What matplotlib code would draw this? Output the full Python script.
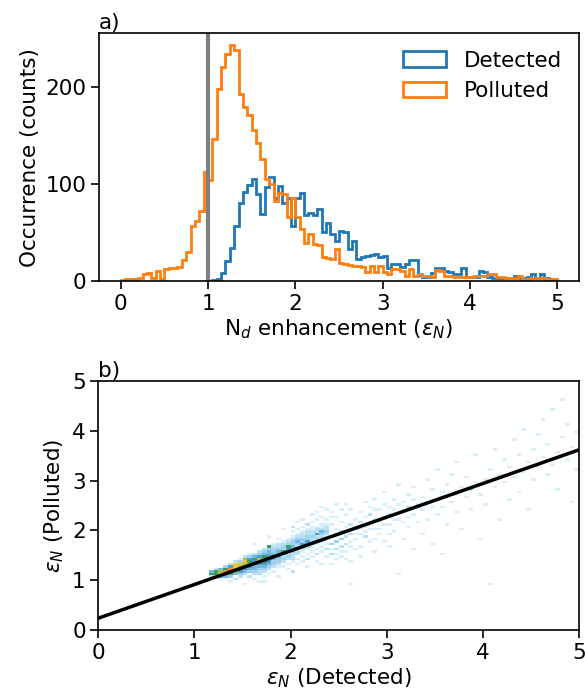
import numpy as np
import matplotlib
matplotlib.use("Agg")
import matplotlib.pyplot as plt
from matplotlib.colors import ListedColormap, BoundaryNorm

# ---------------- data: panel a (histograms, bin width 0.05) ----------------
polluted_edges_start = 0.0
bin_width = 0.05

polluted_counts = [
    1, 2, 2, 2, 3, 7, 8, 3, 10, 2,
    12, 13, 13, 14, 22, 30, 57, 62, 72, 112,
    104, 146, 198, 220, 234, 243, 238, 193, 179, 171,
    155, 142, 126, 105, 100, 82, 91, 90, 66, 86,
    66, 54, 39, 48, 38, 37, 25, 24, 23, 33,
    19, 18, 17, 16, 15, 14, 9, 15, 9, 15,
    9, 7, 12, 12, 10, 5, 12, 5, 7, 5,
    5, 4, 11, 10, 5, 5, 4, 4, 4, 4,
    4, 5, 5, 5, 7, 7, 4, 4, 3, 3,
    3, 5, 2, 2, 3, 3, 3, 2, 2, 2,
]

detected_counts = [
    1, 2, 8, 21, 34, 57, 80, 92, 99, 105,
    90, 69, 97, 107, 86, 98, 80, 86, 57, 86,
    91, 68, 70, 68, 74, 51, 60, 48, 41, 52,
    50, 33, 41, 23, 25, 26, 27, 28, 25, 26,
    13, 18, 18, 14, 18, 22, 22, 6, 4, 4,
    8, 13, 13, 10, 9, 7, 7, 13, 4, 4,
    4, 10, 9, 4, 3, 3, 3, 3, 3, 5,
    3, 3, 4, 7, 3, 7, 3, 2, 1,
]
detected_first_bin = 21  # index of first nonzero bin (x = 1.05)

threshold = 1.0
legend_labels = ["Detected", "Polluted"]

# ---------------- data: panel b (2D histogram cells, 0.05 x 0.05) ----------------
cells = [
    # dense core
    (1.18, 1.13, 6), (1.18, 1.18, 4), (1.18, 1.08, 2),
    (1.23, 1.08, 3), (1.23, 1.13, 6), (1.23, 1.18, 6), (1.23, 1.23, 2),
    (1.28, 1.03, 1), (1.28, 1.08, 4), (1.28, 1.13, 8), (1.28, 1.18, 7), (1.28, 1.23, 4),
    (1.33, 1.08, 4), (1.33, 1.13, 7), (1.33, 1.18, 9), (1.33, 1.23, 6), (1.33, 1.28, 3),
    (1.38, 0.98, 1), (1.38, 1.08, 3), (1.38, 1.13, 6), (1.38, 1.18, 10), (1.38, 1.23, 9),
    (1.38, 1.28, 5), (1.38, 1.33, 2),
    (1.43, 1.03, 2), (1.43, 1.13, 4), (1.43, 1.18, 7), (1.43, 1.23, 9), (1.43, 1.28, 8),
    (1.43, 1.33, 8), (1.43, 1.38, 2),
    (1.48, 1.08, 2), (1.48, 1.13, 3), (1.48, 1.18, 5), (1.48, 1.23, 6), (1.48, 1.28, 7),
    (1.48, 1.33, 8), (1.48, 1.38, 3), (1.48, 1.43, 1),
    (1.53, 0.93, 1), (1.53, 1.13, 2), (1.53, 1.18, 4), (1.53, 1.23, 5), (1.53, 1.28, 6),
    (1.53, 1.33, 7), (1.53, 1.38, 8), (1.53, 1.43, 7), (1.53, 1.48, 2),
    (1.58, 1.08, 2), (1.58, 1.18, 3), (1.58, 1.23, 4), (1.58, 1.28, 5), (1.58, 1.33, 7),
    (1.58, 1.38, 6), (1.58, 1.43, 5), (1.58, 1.48, 3), (1.58, 1.53, 1),
    (1.63, 1.03, 1), (1.63, 1.13, 2), (1.63, 1.18, 3), (1.63, 1.23, 4), (1.63, 1.28, 4),
    (1.63, 1.33, 6), (1.63, 1.38, 5), (1.63, 1.43, 6), (1.63, 1.48, 4), (1.63, 1.53, 2),
    (1.63, 1.73, 1),
    (1.68, 0.98, 1), (1.68, 1.13, 2), (1.68, 1.18, 2), (1.68, 1.23, 3), (1.68, 1.28, 4),
    (1.68, 1.33, 5), (1.68, 1.38, 8), (1.68, 1.43, 7), (1.68, 1.48, 5), (1.68, 1.53, 3),
    (1.68, 1.58, 2),
    (1.73, 0.98, 1), (1.73, 1.08, 1), (1.73, 1.18, 2), (1.73, 1.23, 3), (1.73, 1.28, 4),
    (1.73, 1.33, 5), (1.73, 1.38, 6), (1.73, 1.43, 5), (1.73, 1.48, 6), (1.73, 1.53, 4),
    (1.73, 1.58, 3), (1.73, 1.63, 2),
    (1.78, 1.13, 1), (1.78, 1.23, 2), (1.78, 1.28, 3), (1.78, 1.33, 4), (1.78, 1.38, 5),
    (1.78, 1.43, 4), (1.78, 1.48, 5), (1.78, 1.53, 4), (1.78, 1.58, 4), (1.78, 1.63, 3),
    (1.78, 1.68, 6), (1.78, 1.88, 1),
    (1.83, 1.18, 1), (1.83, 1.28, 2), (1.83, 1.33, 3), (1.83, 1.38, 3), (1.83, 1.43, 4),
    (1.83, 1.48, 6), (1.83, 1.53, 4), (1.83, 1.58, 3), (1.83, 1.63, 3), (1.83, 1.68, 2),
    (1.83, 1.73, 1),
    (1.88, 1.08, 1), (1.88, 1.28, 1), (1.88, 1.33, 2), (1.88, 1.38, 3), (1.88, 1.43, 3),
    (1.88, 1.48, 4), (1.88, 1.53, 3), (1.88, 1.58, 4), (1.88, 1.63, 3), (1.88, 1.68, 2),
    (1.88, 1.73, 2), (1.88, 1.83, 1),
    (1.93, 1.28, 1), (1.93, 1.38, 2), (1.93, 1.43, 3), (1.93, 1.48, 2), (1.93, 1.53, 4),
    (1.93, 1.58, 6), (1.93, 1.63, 3), (1.93, 1.68, 3), (1.93, 1.73, 2), (1.93, 1.78, 1),
    (1.93, 2.03, 1),
    (1.98, 1.23, 1), (1.98, 1.33, 1), (1.98, 1.43, 2), (1.98, 1.48, 3), (1.98, 1.53, 2),
    (1.98, 1.58, 2), (1.98, 1.63, 5), (1.98, 1.68, 6), (1.98, 1.73, 3), (1.98, 1.78, 2),
    (1.98, 1.83, 1),
    (2.03, 1.18, 2), (2.03, 1.38, 1), (2.03, 1.48, 2), (2.03, 1.53, 2), (2.03, 1.58, 3),
    (2.03, 1.63, 3), (2.03, 1.68, 4), (2.03, 1.73, 3), (2.03, 1.78, 3), (2.03, 1.83, 2),
    (2.03, 1.88, 1),
    (2.08, 1.43, 1), (2.08, 1.53, 2), (2.08, 1.58, 2), (2.08, 1.63, 3), (2.08, 1.68, 2),
    (2.08, 1.73, 3), (2.08, 1.78, 4), (2.08, 1.83, 3), (2.08, 1.88, 2), (2.08, 1.93, 1),
    (2.08, 2.18, 1),
    (2.13, 1.48, 1), (2.13, 1.58, 1), (2.13, 1.63, 2), (2.13, 1.68, 3), (2.13, 1.73, 5),
    (2.13, 1.78, 3), (2.13, 1.83, 3), (2.13, 1.88, 2), (2.13, 1.93, 2), (2.13, 1.98, 1),
    (2.18, 1.28, 1), (2.18, 1.53, 1), (2.18, 1.63, 1), (2.18, 1.68, 2), (2.18, 1.73, 3),
    (2.18, 1.78, 5), (2.18, 1.83, 3), (2.18, 1.88, 3), (2.18, 1.93, 2), (2.18, 1.98, 2),
    (2.18, 2.03, 1),
    (2.23, 1.58, 1), (2.23, 1.68, 1), (2.23, 1.73, 2), (2.23, 1.78, 3), (2.23, 1.83, 2),
    (2.23, 1.88, 3), (2.23, 1.93, 2), (2.23, 1.98, 2), (2.23, 2.03, 1), (2.23, 2.08, 1),
    (2.23, 2.33, 1),
    (2.28, 1.38, 1), (2.28, 1.63, 1), (2.28, 1.73, 1), (2.28, 1.78, 2), (2.28, 1.83, 3),
    (2.28, 1.88, 2), (2.28, 1.93, 5), (2.28, 1.98, 2), (2.28, 2.03, 2), (2.28, 2.08, 1),
    (2.33, 1.68, 1), (2.33, 1.78, 1), (2.33, 1.83, 2), (2.33, 1.88, 2), (2.33, 1.93, 3),
    (2.33, 1.98, 4), (2.33, 2.03, 2), (2.33, 2.08, 1), (2.33, 2.13, 1), (2.33, 2.48, 1),
    (2.38, 1.48, 1), (2.38, 1.73, 1), (2.38, 1.83, 1), (2.38, 1.88, 1), (2.38, 1.93, 2),
    (2.38, 1.98, 3), (2.38, 2.03, 2), (2.38, 2.08, 2), (2.38, 2.13, 1),
    # halo around the band
    (2.03, 1.98, 1), (2.03, 2.08, 2), (2.08, 2.03, 1), (2.13, 2.08, 1), (2.13, 2.23, 1),
    (2.18, 2.13, 2), (2.23, 2.18, 1), (2.28, 2.23, 1), (2.28, 2.38, 1), (2.33, 2.28, 1),
    (2.38, 2.23, 1), (2.38, 2.43, 1), (2.43, 2.38, 1), (2.48, 2.28, 1), (2.53, 2.43, 1),
    (2.58, 2.53, 1), (2.48, 2.53, 1),
    (2.03, 1.43, 2), (2.08, 1.33, 1), (2.13, 1.38, 1), (2.18, 1.43, 2), (2.23, 1.48, 1),
    (2.28, 1.53, 2), (2.33, 1.58, 1), (2.38, 1.63, 2), (2.43, 1.63, 1), (2.48, 1.53, 1),
    (2.53, 1.58, 1), (2.58, 1.43, 1), (2.43, 1.33, 1), (2.33, 1.33, 1),
    # sparse outer cloud
    (2.42, 1.52, 2), (2.42, 1.72, 3), (2.42, 1.87, 2), (2.42, 2.13, 1), (2.42, 2.28, 1),
    (2.47, 1.42, 1), (2.47, 1.62, 2), (2.47, 1.78, 3), (2.47, 1.93, 2), (2.47, 2.03, 1),
    (2.52, 1.48, 1), (2.52, 1.68, 2), (2.52, 1.83, 3), (2.52, 1.98, 2), (2.52, 2.18, 1),
    (2.57, 1.58, 1), (2.57, 1.73, 2), (2.57, 1.88, 2), (2.57, 2.08, 1), (2.57, 2.33, 1),
    (2.62, 0.93, 1), (2.62, 1.38, 1), (2.62, 1.78, 1), (2.62, 1.93, 2), (2.62, 2.13, 2),
    (2.62, 2.43, 1), (2.62, 1.68, 1),
    (2.67, 1.63, 1), (2.67, 1.83, 1), (2.67, 2.03, 2), (2.67, 2.23, 1), (2.67, 1.93, 1),
    (2.72, 1.68, 1), (2.72, 1.93, 1), (2.72, 2.18, 2), (2.72, 2.38, 1), (2.72, 2.03, 1),
    (2.72, 1.48, 1),
    (2.77, 1.88, 2), (2.77, 2.08, 1), (2.77, 2.28, 1), (2.77, 2.58, 1), (2.77, 1.98, 1),
    (2.82, 1.78, 1), (2.82, 2.13, 1), (2.82, 2.33, 2), (2.82, 2.48, 1), (2.82, 2.03, 1),
    (2.87, 1.58, 1), (2.87, 2.03, 1), (2.87, 2.23, 1), (2.87, 2.63, 1), (2.87, 2.43, 1),
    (2.87, 1.83, 1),
    (2.92, 1.93, 1), (2.92, 2.18, 1), (2.92, 2.43, 1), (2.92, 2.03, 1),
    (2.97, 1.78, 1), (2.97, 2.28, 2), (2.97, 2.53, 1), (2.97, 2.78, 1), (2.97, 2.13, 1),
    (3.02, 1.68, 1), (3.02, 2.13, 1), (3.02, 2.33, 1), (3.02, 2.48, 1), (3.02, 1.93, 1),
    (3.07, 1.98, 1), (3.07, 2.43, 1), (3.07, 2.63, 1), (3.07, 2.23, 1),
    (3.12, 1.13, 1), (3.12, 2.23, 1), (3.12, 2.93, 1), (3.12, 2.53, 1),
    (3.17, 1.83, 1), (3.17, 2.38, 1), (3.17, 2.58, 1), (3.17, 2.18, 1),
    (3.22, 2.08, 1), (3.22, 2.48, 2), (3.22, 2.73, 1), (3.22, 2.28, 1),
    (3.27, 1.63, 1), (3.27, 2.33, 1), (3.27, 2.88, 1), (3.27, 2.63, 1),
    (3.32, 2.18, 1), (3.32, 2.53, 1),
    (3.37, 1.93, 1), (3.37, 2.43, 1), (3.37, 2.68, 1),
    (3.42, 2.23, 1), (3.42, 2.58, 1), (3.42, 3.03, 1),
    (3.47, 1.73, 1), (3.47, 2.48, 1), (3.47, 2.83, 1),
    (3.52, 2.33, 1), (3.52, 2.63, 1), (3.52, 3.23, 1),
    (3.57, 1.53, 1), (3.57, 2.48, 1), (3.57, 2.78, 1),
    (3.62, 2.13, 1), (3.62, 2.68, 1), (3.62, 2.93, 1),
    (3.67, 2.58, 1), (3.67, 3.13, 1),
    (3.72, 2.38, 1), (3.72, 2.73, 1), (3.72, 3.38, 1),
    (3.77, 2.03, 1), (3.77, 2.88, 1),
    (3.82, 2.68, 1), (3.82, 3.08, 1),
    (3.87, 2.43, 1), (3.87, 2.83, 2),
    (3.92, 2.98, 1), (3.92, 3.53, 1),
    (3.97, 1.83, 1), (3.97, 2.73, 1),
    (4.02, 2.53, 1), (4.02, 3.03, 1),
    (4.07, 0.93, 1), (4.07, 3.23, 1),
    (4.12, 2.88, 1), (4.12, 3.63, 1),
    (4.17, 2.23, 1), (4.17, 3.13, 1),
    (4.22, 2.98, 1), (4.22, 3.43, 1),
    (4.27, 2.63, 1), (4.27, 3.28, 1),
    (4.32, 3.08, 1), (4.32, 3.83, 1),
    (4.37, 2.78, 1), (4.37, 3.53, 1),
    (4.42, 3.18, 1), (4.42, 4.03, 1),
    (4.47, 2.43, 1), (4.47, 3.38, 1),
    (4.52, 3.03, 1), (4.52, 3.63, 1),
    (4.57, 3.28, 1), (4.57, 3.93, 1),
    (4.62, 3.48, 1), (4.62, 4.23, 1),
    (4.67, 3.13, 1), (4.67, 3.73, 1),
    (4.72, 3.33, 1), (4.72, 4.43, 1),
    (4.77, 2.83, 1), (4.77, 3.58, 1),
    (4.82, 3.88, 1), (4.82, 4.63, 1),
    (4.87, 3.43, 1), (4.87, 4.13, 1),
    (4.92, 2.58, 1), (4.92, 3.68, 1),
    (4.97, 3.23, 1), (4.97, 3.98, 1),
]
cell_x = [c[0] for c in cells]
cell_y = [c[1] for c in cells]
cell_level = [c[2] for c in cells]

fit_intercept = 0.24
fit_slope = 0.676

level_colors = ['#d9eff9', '#b9e1f3', '#9ed2ee', '#74b7e0', '#4f9ad0',
                '#3f9a62', '#a6c43c', '#f2c433', '#f0892a', '#e5482a']

# ---------------- figure ----------------
plt.rcParams.update({
    'font.size': 15.5,
    'axes.linewidth': 1.2,
    'xtick.major.width': 1.2,
    'ytick.major.width': 1.2,
    'xtick.major.size': 5.5,
    'ytick.major.size': 5.5,
})
fig = plt.figure(figsize=(5.85, 6.94), dpi=100)
ax1 = fig.add_axes([0.169, 0.595, 0.821, 0.357])
ax2 = fig.add_axes([0.168, 0.092, 0.822, 0.359])

edges_p = polluted_edges_start + bin_width * np.arange(len(polluted_counts) + 1)
centers_p = 0.5 * (edges_p[:-1] + edges_p[1:])
edges_d = bin_width * (detected_first_bin + np.arange(len(detected_counts) + 1))
centers_d = 0.5 * (edges_d[:-1] + edges_d[1:])

ax1.hist(centers_d, bins=edges_d, weights=detected_counts, histtype='step',
         color='#1f77b4', lw=2, label=legend_labels[0])
ax1.hist(centers_p, bins=edges_p, weights=polluted_counts, histtype='step',
         color='#ff7f0e', lw=2, label=legend_labels[1])
ax1.axvline(threshold, color='grey', lw=3)
ax1.set_xlim(-0.25, 5.25)
ax1.set_ylim(0, 255)
ax1.set_xticks([0, 1, 2, 3, 4, 5])
ax1.set_yticks([0, 100, 200])
ax1.set_xlabel(r'N$_d$ enhancement ($\epsilon_N$)', labelpad=3)
ax1.set_ylabel('Occurrence (counts)')
ax1.legend(loc='upper right', frameon=False, borderaxespad=0.4)
ax1.text(0.0, 1.0, 'a)', transform=ax1.transAxes, ha='left', va='bottom')

cmap = ListedColormap(level_colors)
norm = BoundaryNorm(np.arange(0.5, 11.5, 1.0), cmap.N)
ax2.hist2d(cell_x, cell_y, bins=100, range=[[0, 5], [0, 5]], weights=cell_level,
           cmap=cmap, norm=norm, cmin=0.5)
xs = np.array([0.0, 5.0])
ax2.plot(xs, fit_intercept + fit_slope * xs, color='black', lw=2.5)
ax2.set_xlim(0, 5)
ax2.set_ylim(0, 5)
ax2.set_xticks([0, 1, 2, 3, 4, 5])
ax2.set_yticks([0, 1, 2, 3, 4, 5])
ax2.set_xlabel(r'$\epsilon_N$ (Detected)', labelpad=3)
ax2.set_ylabel(r'$\epsilon_N$ (Polluted)')
ax2.text(0.0, 1.0, 'b)', transform=ax2.transAxes, ha='left', va='bottom')

fig.savefig('out.png', dpi=100)
